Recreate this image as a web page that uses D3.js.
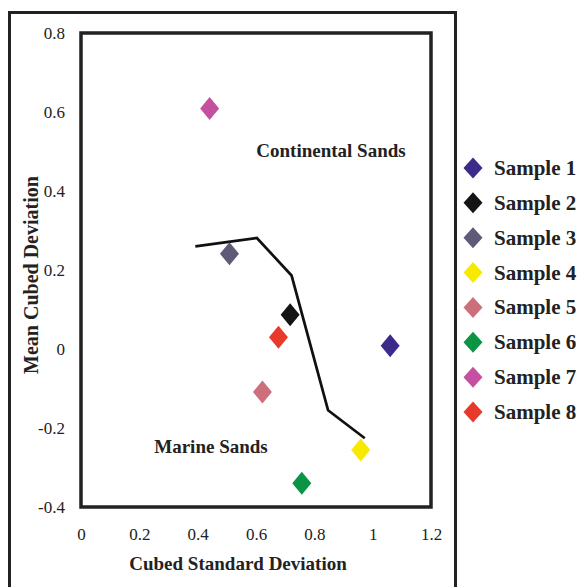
<!DOCTYPE html>
<html>
<head>
<meta charset="utf-8">
<script src="https://cdn.jsdelivr.net/npm/d3@7"></script>
<style>
  body { margin: 0; background: #fff; }
  text { font-family: "Liberation Serif", "Times New Roman", serif; fill: #222; }
</style>
</head>
<body>
<svg id="chart" width="578" height="587"></svg>
<script>
// sample names and colours
var sampleNames = ["Sample 1", "Sample 2", "Sample 3", "Sample 4", "Sample 5", "Sample 6", "Sample 7", "Sample 8"];
var sampleColors = ["#3d2a8a", "#141414", "#5e5a78", "#f7ea00", "#cc6f7b", "#0a9443", "#c451a0", "#e83a2b"];
// cubed standard deviation (x) and mean cubed deviation (y)
var sampleX = [1.06, 0.717, 0.509, 0.959, 0.622, 0.757, 0.441, 0.677];
var sampleY = [0.008, 0.087, 0.241, -0.256, -0.109, -0.34, 0.609, 0.03];
// boundary line between marine and continental sands
var lineX = [0.392, 0.603, 0.722, 0.847, 0.973];
var lineY = [0.26, 0.281, 0.186, -0.155, -0.226];
var xTicks = [0, 0.2, 0.4, 0.6, 0.8, 1, 1.2];
var yTicks = [-0.4, -0.2, 0, 0.2, 0.4, 0.6, 0.8];

var svg = d3.select("#chart");

// outer frame
svg.append("rect")
  .attr("x", 9.5).attr("y", 12.5)
  .attr("width", 446).attr("height", 600)
  .attr("fill", "none").attr("stroke", "#222").attr("stroke-width", 3);

var x = d3.scaleLinear().domain([0, 1.2]).range([81, 431]);
var y = d3.scaleLinear().domain([-0.4, 0.8]).range([507, 33]);

// plot frame
svg.append("rect")
  .attr("x", x(0)).attr("y", y(0.8))
  .attr("width", x(1.2) - x(0)).attr("height", y(-0.4) - y(0.8))
  .attr("fill", "none").attr("stroke", "#222").attr("stroke-width", 3.5);

// axes (labels only, no tick marks)
var fmt = function (d) { return String(d); };
var xAxis = svg.append("g")
  .attr("transform", "translate(0," + (y(-0.4) + 18) + ")")
  .call(d3.axisBottom(x).tickValues(xTicks).tickSize(0).tickFormat(fmt));
xAxis.select(".domain").remove();

var yAxis = svg.append("g")
  .attr("transform", "translate(" + (x(0) - 13) + ",0)")
  .call(d3.axisLeft(y).tickValues(yTicks).tickSize(0).tickFormat(fmt));
yAxis.select(".domain").remove();

svg.selectAll(".tick text")
  .style("font-family", "'Liberation Serif', serif")
  .style("font-size", "17px")
  .attr("fill", "#333");

// axis titles
svg.append("text")
  .attr("x", 238).attr("y", 570)
  .attr("text-anchor", "middle")
  .style("font-size", "19px").style("font-weight", "bold")
  .text("Cubed Standard Deviation");

svg.append("text")
  .attr("transform", "translate(38,275) rotate(-90)")
  .attr("text-anchor", "middle")
  .style("font-size", "20px").style("font-weight", "bold")
  .text("Mean Cubed Deviation");

// region labels
svg.append("text")
  .attr("x", 331).attr("y", 157)
  .attr("text-anchor", "middle")
  .style("font-size", "19px").style("font-weight", "bold")
  .text("Continental Sands");

svg.append("text")
  .attr("x", 211).attr("y", 453)
  .attr("text-anchor", "middle")
  .style("font-size", "19px").style("font-weight", "bold")
  .text("Marine Sands");

// boundary line
var lineData = lineX.map(function (d, i) { return [d, lineY[i]]; });
svg.append("path")
  .datum(lineData)
  .attr("d", d3.line().x(function (d) { return x(d[0]); }).y(function (d) { return y(d[1]); }))
  .attr("fill", "none").attr("stroke", "#111").attr("stroke-width", 2.7);

// diamond marker
function diamond(w, h) {
  return "M0," + (-h / 2) + "L" + (w / 2) + ",0L0," + (h / 2) + "L" + (-w / 2) + ",0Z";
}

var samples = sampleNames.map(function (n, i) {
  return { name: n, x: sampleX[i], y: sampleY[i], color: sampleColors[i] };
});

svg.append("g")
  .selectAll("path")
  .data(samples)
  .join("path")
  .attr("d", diamond(19, 23))
  .attr("transform", function (d) { return "translate(" + x(d.x) + "," + y(d.y) + ")"; })
  .attr("fill", function (d) { return d.color; });

// legend
var legendY = d3.scalePoint().domain(sampleNames).range([168, 412]);
var legend = svg.append("g")
  .selectAll("g")
  .data(samples)
  .join("g")
  .attr("transform", function (d) { return "translate(0," + legendY(d.name) + ")"; });

legend.append("path")
  .attr("d", diamond(19, 21))
  .attr("transform", "translate(473,0)")
  .attr("fill", function (d) { return d.color; });

legend.append("text")
  .attr("x", 494).attr("y", 7)
  .style("font-size", "21px").style("font-weight", "bold")
  .text(function (d) { return d.name; });
</script>
</body>
</html>
